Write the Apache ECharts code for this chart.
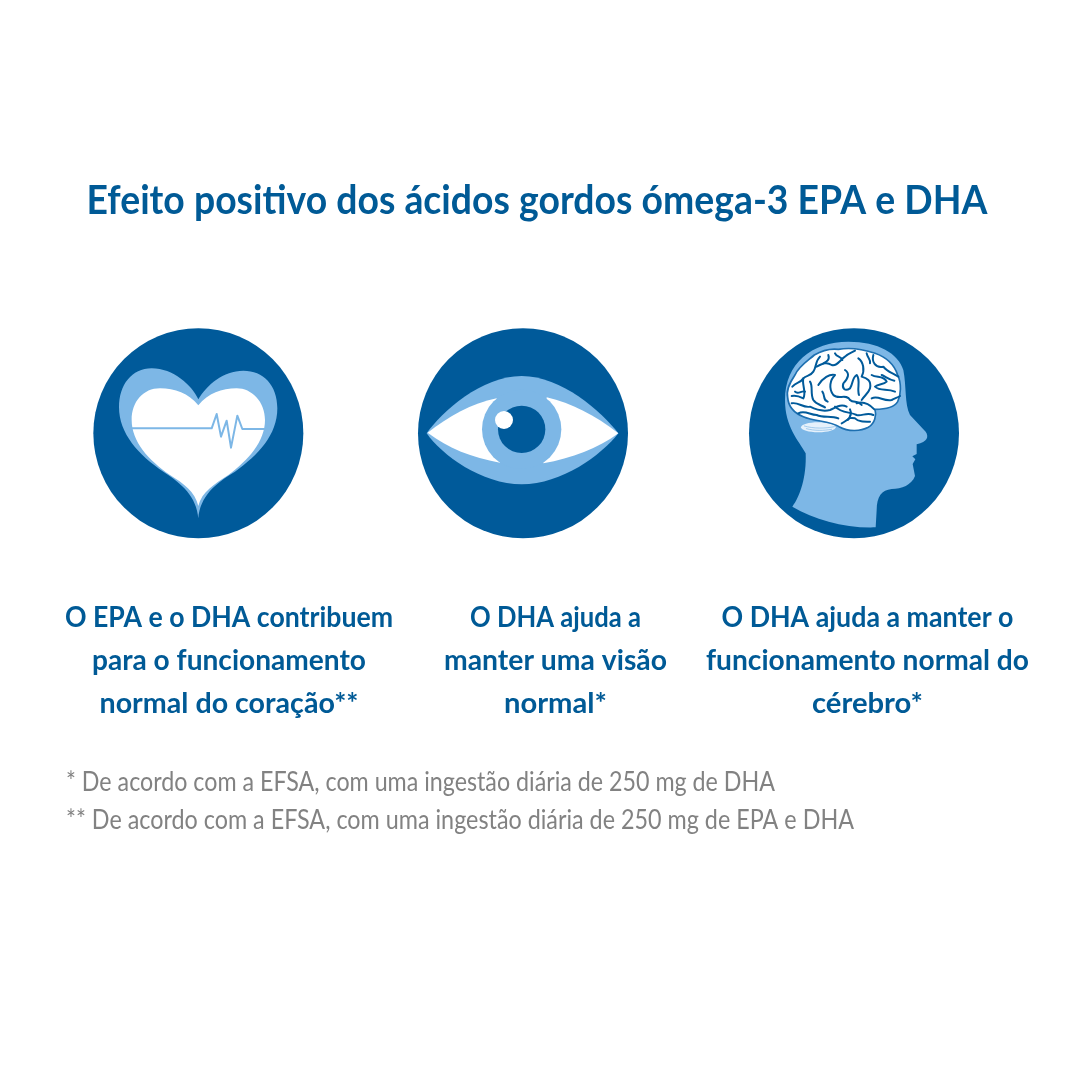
<!DOCTYPE html>
<html>
<head>
<meta charset="utf-8">
<title>Efeito positivo</title>
<style>html,body{margin:0;background:#fff}#main{width:1080px;height:1080px}</style>
<script src="https://cdn.jsdelivr.net/npm/echarts@6/dist/echarts.min.js"></script>
</head>
<body>
<div id="main"></div>
<script>
var titleText = 'Efeito positivo dos ácidos gordos ómega-3 EPA e DHA';
var col1Lines = ['O EPA e o DHA contribuem', 'para o funcionamento', 'normal do coração**'];
var col2Lines = ['O DHA ajuda a', 'manter uma visão', 'normal*'];
var col3Lines = ['O DHA ajuda a manter o', 'funcionamento normal do', 'cérebro*'];
var notes = [
  '* De acordo com a EFSA, com uma ingestão diária de 250 mg de DHA',
  '** De acordo com a EFSA, com uma ingestão diária de 250 mg de EPA e DHA'
];
var iconNames = ['heart', 'eye', 'brain'];

var dark = '#005a9a', light = '#7db7e6', titleColor = '#005a96', grey = '#828282';
var FONT = 'Lato';

// icon paths are written in the 3x crop space, so each group gets scale 1/3
var heartOuter = 'M355 238 C335 195 280 145 215 145 C155 145 117 195 117 262 C117 340 175 405 250 455 C305 490 350 530 355 595 C360 530 405 490 465 455 C535 405 592 345 592 265 C592 195 550 152 490 152 C430 152 380 195 355 238 Z';
var heartInner = 'M355 256 C325 220 285 205 240 205 C190 205 155 245 155 300 C155 365 205 420 270 465 C310 490 345 515 355 558 C365 515 405 492 445 465 C505 420 555 365 555 300 C555 245 515 205 470 205 C425 205 385 220 355 256 Z';
var ecgLine = 'M157 325 L395 325 L410 282 L423 350 L440 302 L453 383 L472 287 L487 327 L553 327';
var eyeOuter = 'M65 340 C110 275 230 168 350 168 C470 168 590 275 640 340 C590 405 470 493 350 493 C230 493 110 405 65 340 Z';
var eyeLeft = 'M68 338 C130 290 200 250 275 235 L285 428 C200 412 130 385 68 338 Z';
var eyeRight = 'M640 340 C570 285 500 250 425 232 L415 430 C500 415 580 385 640 340 Z';
var headShape = 'M150 240 C150 130 230 65 340 65 C430 65 490 100 505 150 C515 200 508 250 525 285 L572 335 C582 350 578 365 545 373 L545 402 L532 409 L541 418 L533 432 L540 468 C530 495 500 507 470 507 C440 510 425 530 425 570 L422 622 C330 625 240 600 172 560 C195 530 215 470 212 400 C190 360 150 320 150 240 Z';
var brainShape = 'M158 232 C152 205 170 180 180 165 C190 140 215 125 238 105 C260 92 285 85 310 88 C345 82 385 88 420 100 C455 112 478 135 488 165 C500 190 498 225 488 245 C478 262 450 268 420 268 C425 285 420 310 400 322 C375 335 340 335 312 320 C285 302 240 305 205 290 C180 280 160 260 158 232 Z';
var brainFolds = [
  'M172 200 C185 185 195 190 205 175 C215 165 225 170 235 155 C245 140 240 125 255 110',
  'M205 175 C200 195 215 215 205 235 C195 230 185 225 170 228',
  'M225 185 C235 200 225 220 235 240 C245 255 260 255 270 262',
  'M245 140 C265 130 275 125 290 135 C305 140 315 120 330 110 C340 100 350 98 360 92',
  'M250 195 C262 175 285 160 300 165 C285 180 280 205 295 225 C310 240 335 220 345 240 C355 250 370 240 380 255',
  'M330 150 C345 160 340 175 325 190 C320 205 330 215 345 205 C355 190 350 175 365 165 C378 180 365 205 372 225',
  'M370 115 C385 125 390 150 380 170 C395 175 410 180 405 205 C400 220 390 225 380 240',
  'M415 105 C410 125 420 145 445 140 C455 155 475 160 490 170',
  'M410 165 C425 175 445 165 455 185 C445 195 430 190 420 200 C435 215 455 205 480 215',
  'M410 235 C430 225 445 245 470 240 C480 235 488 232 495 228',
  'M170 250 C190 245 205 265 225 260 C245 270 265 275 285 270 C300 265 315 250 335 260',
  'M190 280 C210 270 225 285 245 285 C265 295 290 285 310 295',
  'M300 260 C320 280 345 275 365 285 C380 290 395 275 415 285',
  'M320 310 C340 300 340 290 360 295 C370 305 385 305 405 305',
  'M365 250 C380 245 400 250 418 268',
  'M280 105 C285 120 275 125 265 130',
  'M180 215 C190 225 200 210 210 215',
  'M300 100 C305 112 318 108 322 120',
  'M395 100 C398 115 408 118 405 130',
  'M440 165 C452 170 462 180 478 182',
  'M262 215 C272 228 262 240 278 245',
  'M345 268 C352 282 345 292 338 300'
];
var cerebellumLines = ['M208 318 C235 326 270 326 298 320', 'M214 326 C240 333 265 332 290 328'];

// squeeze a line so it fills the same width as in the picture
var measureCtx = document.createElement('canvas').getContext('2d');
function fitScale(text, font, width) {
  measureCtx.font = font;
  return width / measureCtx.measureText(text).width;
}
function textEl(text, x, y, size, weight, color, align, width) {
  var font = weight + ' ' + size + 'px ' + FONT;
  return {
    type: 'text', x: x, y: y,
    scaleX: fitScale(text, font, width),
    style: { text: text, font: font, fill: color, textAlign: align, textVerticalAlign: 'middle' }
  };
}
function path(d, fill, stroke, w) {
  return { type: 'path', shape: { pathData: d }, style: { fill: fill || 'none', stroke: stroke || 'none', lineWidth: w || 0, lineJoin: 'round', lineCap: 'round' } };
}
function disc(cx, cy, r, fill) {
  return { type: 'circle', shape: { cx: cx, cy: cy, r: r }, style: { fill: fill } };
}

var elements = [];
elements.push(textEl(titleText, 537, 201, 40, 700, titleColor, 'center', 901));

var colCenters = [229, 555.5, 867.5];
var colWidths = [[328, 274, 259], [171, 223, 103], [292, 323, 111]];
var lineY = [618, 661, 704];
[col1Lines, col2Lines, col3Lines].forEach(function (lines, c) {
  lines.forEach(function (t, i) {
    elements.push(textEl(t, colCenters[c], lineY[i], 29, 700, titleColor, 'center', colWidths[c][i]));
  });
});
elements.push(textEl(notes[0], 66, 782, 27, 400, grey, 'left', 709));
elements.push(textEl(notes[1], 66, 820, 27, 400, grey, 'left', 788));

var iconOrigins = { heart: [80, 320], eye: [405, 320], brain: [735, 320] };
var iconParts = {
  heart: [
    disc(355, 340, 315, dark),
    path(heartOuter, light),
    path(heartInner, '#ffffff'),
    path(ecgLine, 'none', light, 6)
  ],
  eye: [
    disc(354, 340, 315, dark),
    path(eyeOuter, light),
    path(eyeLeft, '#ffffff'),
    path(eyeRight, '#ffffff'),
    disc(350, 328, 119, light),
    disc(350, 328, 71, dark),
    disc(297, 300, 27, '#ffffff')
  ],
  brain: [
    disc(357, 340, 315, dark),
    path(headShape, light),
    { type: 'ellipse', shape: { cx: 250, cy: 322, rx: 52, ry: 15 }, style: { fill: '#e6f1fb' } },
    path(cerebellumLines[0], 'none', light, 2),
    path(cerebellumLines[1], 'none', light, 2),
    path(brainShape, '#ffffff', '#1d6fb0', 5)
  ].concat(brainFolds.map(function (d) { return path(d, 'none', dark, 6); }))
};

var myChart = echarts.init(document.getElementById('main'), null, { renderer: 'canvas' });
myChart.setOption({
  animation: false,
  backgroundColor: '#ffffff',
  graphic: { elements: elements },
  series: [{
    type: 'custom',
    coordinateSystem: 'none',
    silent: true,
    data: iconNames,
    renderItem: function (params) {
      var name = iconNames[params.dataIndex];
      return {
        type: 'group',
        x: iconOrigins[name][0],
        y: iconOrigins[name][1],
        scaleX: 1 / 3,
        scaleY: 1 / 3,
        children: iconParts[name]
      };
    }
  }]
});
</script>
</body>
</html>
